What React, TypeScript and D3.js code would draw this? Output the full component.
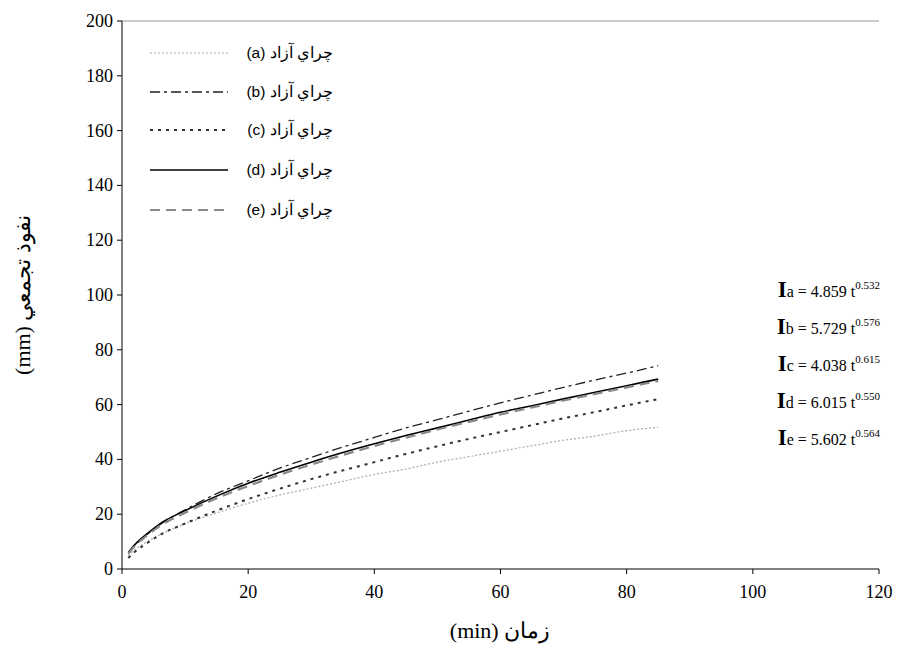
import * as d3 from 'd3';

const times = [1, 2, 4, 6, 10, 15, 20, 25, 30, 35, 40, 45, 50, 55, 60, 65, 70, 75, 80, 85];
const seriesA = [4.9, 7, 10, 12.5, 16.5, 20.5, 24, 27, 29.5, 32, 34.5, 36.5, 39, 41, 43, 45, 47, 48.5, 50.5, 51.7];
const seriesB = [5.7, 8.5, 12.7, 16.2, 21.6, 27.5, 32.2, 36.8, 40.7, 44.5, 48, 51.5, 54.5, 57.6, 60.6, 63.5, 66.3, 69, 71.5, 74.2];
const seriesC = [4, 6.2, 9.5, 12.4, 16.6, 21.3, 25.5, 29.3, 32.8, 36, 39, 42, 44.8, 47.5, 50, 52.5, 55, 57.3, 59.7, 62];
const seriesD = [6, 8.8, 12.9, 16.5, 21.3, 26.6, 31.3, 35.3, 39, 42.5, 45.7, 48.7, 51.5, 54.4, 57.2, 59.6, 62.1, 64.5, 66.9, 69.3];
const seriesE = [5.6, 8.3, 12.3, 15.7, 20.5, 25.8, 30.3, 34.4, 38.1, 41.6, 44.9, 47.9, 50.9, 53.7, 56.4, 59, 61.5, 63.9, 66.3, 68.6];
const legendKeys = ['a', 'b', 'c', 'd', 'e'];
const equations = [
  ['a', '4.859', '0.532'],
  ['b', '5.729', '0.576'],
  ['c', '4.038', '0.615'],
  ['d', '6.015', '0.550'],
  ['e', '5.602', '0.564'],
];
const xTicks = [0, 20, 40, 60, 80, 100, 120];
const yTicks = [0, 20, 40, 60, 80, 100, 120, 140, 160, 180, 200];

const styles = [
  { data: seriesA, stroke: '#aaa', width: 1.2, dash: '2,2' },
  { data: seriesB, stroke: '#222', width: 1.3, dash: '10,4,3,4' },
  { data: seriesC, stroke: '#333', width: 2, dash: '3,5' },
  { data: seriesD, stroke: '#000', width: 1.6, dash: '' },
  { data: seriesE, stroke: '#888', width: 2.2, dash: '10,6' },
];

const serif = { fontFamily: "'Liberation Serif', Tinos, 'Times New Roman', serif" };
const sans = { fontFamily: "'Liberation Sans', Arial, sans-serif" };

export default function App() {
  const left = 122, right = 879, top = 21, bottom = 569;
  const x = d3.scaleLinear().domain([0, 120]).range([left, right]);
  const y = d3.scaleLinear().domain([0, 200]).range([bottom, top]);
  const line = d3.line<number>().x((_, i) => x(times[i])).y(d => y(d)).curve(d3.curveMonotoneX);
  const legendY = [53, 92, 130, 170, 210];
  return (
    <svg width={900} height={661} style={{ position: 'absolute', left: 0, top: 0, display: 'block' }}>
      <line x1={left} x2={right} y1={top} y2={top} stroke="#999" strokeWidth={1} />
      {styles.map((s, i) => (
        <path key={i} d={line(s.data) || ''} fill="none" stroke={s.stroke} strokeWidth={s.width} strokeDasharray={s.dash} />
      ))}
      <line x1={left} x2={left} y1={top} y2={bottom} stroke="#000" />
      <line x1={left} x2={right} y1={bottom} y2={bottom} stroke="#000" />
      {yTicks.map(t => (
        <g key={t}>
          <line x1={left - 5} x2={left} y1={y(t)} y2={y(t)} stroke="#000" />
          <text x={left - 9} y={y(t) + 6} textAnchor="end" style={serif} fontSize={18}>{t}</text>
        </g>
      ))}
      {xTicks.map(t => (
        <g key={t}>
          <line x1={x(t)} x2={x(t)} y1={bottom} y2={bottom + 5} stroke="#000" />
          <text x={x(t)} y={bottom + 29} textAnchor="middle" style={serif} fontSize={18}>{t}</text>
        </g>
      ))}
      {legendKeys.map((k, i) => (
        <g key={k}>
          <line x1={150} x2={228} y1={legendY[i]} y2={legendY[i]} stroke={styles[i].stroke}
            strokeWidth={styles[i].width} strokeDasharray={styles[i].dash} />
          <text x={333} y={legendY[i] + 5} style={sans} fontSize={15.5} direction="rtl">{`چراي آزاد (${k})`}</text>
        </g>
      ))}
      {equations.map((e, i) => (
        <text key={e[0]} x={880} y={297 + i * 37} style={serif} textAnchor="end">
          <tspan fontSize={23} fontWeight="bold">I</tspan>
          <tspan fontSize={16}>{`${e[0]} = ${e[1]} t`}</tspan>
          <tspan fontSize={11} dy={-8}>{e[2]}</tspan>
        </text>
      ))}
      <text x={500} y={638} textAnchor="middle" style={serif} fontSize={22} direction="rtl">زمان (min)</text>
      <text transform={`translate(30, ${(top + bottom) / 2}) rotate(-90)`} textAnchor="middle" style={serif} fontSize={22} direction="rtl">نفوذ تجمعي (mm)</text>
    </svg>
  );
}
